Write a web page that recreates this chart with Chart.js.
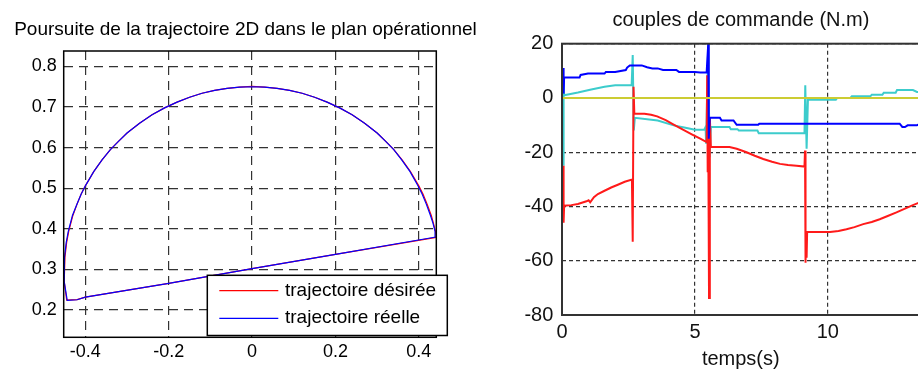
<!DOCTYPE html>
<html>
<head>
<meta charset="utf-8">
<script src="https://cdn.jsdelivr.net/npm/chart.js@4"></script>
<style>
  html, body { margin: 0; padding: 0; background: #fff; overflow: hidden; width: 918px; height: 370px; }
  #boxTraj { position: absolute; left: 0; top: 0; width: 480px; height: 370px; }
  #boxTorque { position: absolute; left: 500px; top: 0; width: 430px; height: 370px; }
</style>
</head>
<body>
<div id="boxTraj"><canvas id="traj" width="480" height="370"></canvas></div>
<div id="boxTorque"><canvas id="torque" width="430" height="370"></canvas></div>
<script>
// ---- 2D trajectory in the operational plane (x, y in m) ----
const trajTicksX = [-0.4, -0.2, 0, 0.2, 0.4];
const trajTicksY = [0.2, 0.3, 0.4, 0.5, 0.6, 0.7, 0.8];
const trajLabels = ['trajectoire désirée', 'trajectoire réelle'];

// arc from the right end over the top to the left, down the left side, then the straight return
const desiredX = [0.442, 0.440, 0.435, 0.430, 0.420, 0.410, 0.400, 0.380, 0.360, 0.340, 0.320, 0.300, 0.270, 0.240, 0.210,
  0.180, 0.150, 0.120, 0.090, 0.060, 0.030, 0.000, -0.030, -0.060, -0.090, -0.120, -0.150, -0.180, -0.210, -0.240,
  -0.270, -0.300, -0.320, -0.340, -0.360, -0.380, -0.400, -0.410, -0.420, -0.430, -0.440, -0.445, -0.449, -0.4505,
  -0.451, -0.4448, -0.420, -0.400, -0.200, 0.000, 0.200, 0.442];
const desiredY = [0.379, 0.394, 0.414, 0.433, 0.461, 0.486, 0.506, 0.541, 0.570, 0.595, 0.616, 0.636, 0.660, 0.681, 0.698,
  0.712, 0.724, 0.734, 0.741, 0.746, 0.749, 0.751, 0.749, 0.746, 0.741, 0.734, 0.724, 0.712, 0.698, 0.681,
  0.660, 0.636, 0.616, 0.595, 0.570, 0.541, 0.506, 0.486, 0.461, 0.433, 0.394, 0.366, 0.330, 0.300,
  0.270, 0.2244, 0.226, 0.232, 0.266, 0.302, 0.337, 0.379];

const realX = [0.441, 0.439, 0.434, 0.428, 0.418, 0.408, 0.398, 0.379, 0.359, 0.340, 0.320, 0.300, 0.270, 0.240, 0.210,
  0.180, 0.150, 0.120, 0.090, 0.060, 0.030, 0.000, -0.030, -0.060, -0.090, -0.120, -0.150, -0.180, -0.210, -0.240,
  -0.270, -0.300, -0.320, -0.340, -0.360, -0.380, -0.400, -0.410, -0.420, -0.431, -0.441, -0.446, -0.450, -0.4508,
  -0.4508, -0.4435, -0.420, -0.400, -0.200, 0.000, 0.200, 0.441];
const realY = [0.380, 0.394, 0.414, 0.433, 0.461, 0.486, 0.506, 0.541, 0.570, 0.595, 0.616, 0.636, 0.660, 0.681, 0.698,
  0.712, 0.724, 0.734, 0.741, 0.746, 0.749, 0.750, 0.749, 0.746, 0.741, 0.734, 0.724, 0.712, 0.698, 0.681,
  0.660, 0.636, 0.616, 0.595, 0.570, 0.541, 0.506, 0.486, 0.461, 0.433, 0.394, 0.366, 0.330, 0.300,
  0.270, 0.2240, 0.2255, 0.232, 0.266, 0.302, 0.337, 0.380];

// ---- control torques (N.m) versus time (s) ----
const timeTicks = [0, 5, 10];
const torqueTicks = [-80, -60, -40, -20, 0, 20];

const tBlue = [0.06, 0.06, 0.08, 0.66, 0.7, 0.98, 1.6, 1.65, 2.0, 2.4, 2.45, 2.55, 3.0, 3.2, 3.4, 3.6, 3.8, 4.3, 4.4, 5.0,
  5.2, 5.44, 5.5, 5.52, 5.56, 5.94, 6.0, 6.45, 6.57, 7.38, 7.42, 12.7, 12.8, 12.9, 13.0, 13.35, 13.5];
const uBlue = [11, 1.6, 7.5, 7.5, 8.5, 9.0, 9.0, 9.6, 9.6, 10.3, 11.2, 12.0, 12.0, 11.3, 10.9, 10.9, 10.3, 10.3, 9.6, 9.6,
  9.4, 9.4, 20, -15, -7.3, -7.3, -8.3, -8.3, -9.9, -9.9, -9.5, -9.5, -10.7, -10.7, -10.1, -10.1, -9.3];

const tCyan = [0.06, 0.06, 0.08, 0.6, 1.1, 1.6, 2.0, 2.62, 2.66, 2.70, 2.74, 3.6, 4.2, 4.6, 5.0, 5.35, 5.40, 5.42, 5.50, 5.55,
  5.60, 6.30, 6.35, 6.60, 6.65, 7.35, 7.40, 9.12, 9.15, 9.20, 9.25, 10.30, 10.35, 10.85, 10.90, 11.60, 11.65, 12.05, 12.10, 12.55,
  12.60, 13.20, 13.35, 13.50];
const uCyan = [-25, 6.6, 1.0, 2.0, 3.1, 4.1, 4.7, 4.7, 15.8, -12, -7.3, -8.3, -10.1, -10.9, -11.7, -11.7, -10.7, -16.9, 20, -21.8,
  -10.7, -10.7, -11.5, -11.5, -12, -12, -13, -13, 4.7, -18.7, -0.7, -0.7, 0, 0, 0.6, 0.6, 1.2, 1.2, 1.9, 1.9,
  2.9, 2.9, 2.2, 2.2];

const tRed = [0.06, 0.06, 0.08, 0.35, 0.6, 0.92, 1.0, 1.06, 1.2, 1.35, 1.6, 1.85, 2.1, 2.36, 2.63, 2.66, 2.69, 2.72, 3.1, 3.35,
  3.58, 3.9, 4.2, 4.55, 4.9, 5.2, 5.44, 5.46, 5.48, 5.50, 5.53, 5.56, 5.60, 6.3, 6.57, 6.94, 7.25, 7.57, 7.9, 8.2,
  8.5, 8.82, 9.12, 9.14, 9.16, 9.18, 9.20, 9.22, 10.08, 10.4, 10.7, 11.0, 11.33, 11.65, 11.95, 12.25, 12.58, 12.9, 13.2, 13.5];
const uRed = [-25, -46, -39.7, -39.5, -39.1, -38.1, -37.7, -38.5, -36.6, -35.4, -34.2, -33, -32, -30.9, -30.1, -53, 4.1, -5.8, -5.8, -6.2,
  -6.8, -8.2, -9.8, -11.7, -13.5, -15, -16.3, 8.4, -27.4, -12, -73.7, -7, -18.1, -18.1, -18.7, -20, -21.3, -22.5, -23.5, -24.3,
  -24.7, -25, -25.3, -19.4, -60.7, -49.4, -58.9, -49.4, -49.4, -49.0, -48.4, -47.6, -46.5, -45.7, -44.7, -43.5, -42.2, -40.8, -39.5, -38.3];

const tYellow = [0, 13.5];
const uYellow = [0, 0];

// ---- helpers ----
const FONT = '"Liberation Sans", Arial, sans-serif';
const pts = (xs, ys) => xs.map((x, i) => ({ x: x, y: ys[i] }));
const fixedTicks = list => scale => { scale.ticks = list.map(v => ({ value: v })); };

// axes box drawn over the data
const frame = {
  id: 'frame',
  afterDatasetsDraw(chart, args, opts) {
    const { ctx, chartArea: a } = chart;
    ctx.save();
    ctx.strokeStyle = opts.color;
    ctx.lineWidth = opts.width;
    ctx.strokeRect(a.left, a.top, a.right - a.left, a.bottom - a.top);
    ctx.restore();
  }
};

// plot title centred above the axes
const caption = {
  id: 'caption',
  afterDraw(chart, args, opts) {
    const ctx = chart.ctx;
    ctx.save();
    ctx.font = opts.font;
    ctx.fillStyle = opts.color;
    ctx.textAlign = 'center';
    ctx.textBaseline = 'middle';
    ctx.fillText(opts.text, opts.x, opts.y);
    ctx.restore();
  }
};

// boxed legend overlapping the lower right of the axes
const boxLegend = {
  id: 'boxLegend',
  afterDraw(chart, args, opts) {
    const ctx = chart.ctx;
    const b = opts.box;
    ctx.save();
    ctx.fillStyle = '#fff';
    ctx.fillRect(b.left, b.top, b.right - b.left, b.bottom - b.top);
    ctx.strokeStyle = '#000';
    ctx.lineWidth = opts.borderWidth;
    ctx.strokeRect(b.left, b.top, b.right - b.left, b.bottom - b.top);
    chart.data.datasets.forEach((ds, i) => {
      const y = opts.rows[i];
      ctx.strokeStyle = ds.borderColor;
      ctx.lineWidth = ds.borderWidth;
      ctx.beginPath();
      ctx.moveTo(opts.lineFrom, y);
      ctx.lineTo(opts.lineTo, y);
      ctx.stroke();
      ctx.fillStyle = '#000';
      ctx.font = opts.font;
      ctx.textAlign = 'left';
      ctx.textBaseline = 'middle';
      ctx.fillText(ds.label, opts.textX, opts.textRows[i]);
    });
    ctx.restore();
  }
};

// ---- left: trajectory tracking ----
new Chart(document.getElementById('traj'), {
  type: 'scatter',
  data: {
    datasets: [
      { label: trajLabels[0], data: pts(desiredX, desiredY), showLine: true, borderColor: '#ff0000',
        borderWidth: 1.2, pointRadius: 0, tension: 0, order: 1 },
      { label: trajLabels[1], data: pts(realX, realY), showLine: true, borderColor: '#0000ff',
        borderWidth: 1.2, pointRadius: 0, tension: 0, order: 0 }
    ]
  },
  options: {
    responsive: false,
    animation: false,
    layout: { padding: { top: 51, right: 43.7, bottom: 0, left: 0 } },
    plugins: {
      legend: { display: false },
      tooltip: { enabled: false },
      frame: { color: '#000', width: 1.5 },
      caption: { text: 'Poursuite de la trajectoire 2D dans le plan opérationnel', x: 245.5, y: 29.5,
        font: '19px ' + FONT, color: '#000' },
      boxLegend: { box: { left: 207.3, top: 275.3, right: 447.3, bottom: 335.5 }, borderWidth: 1.5,
        lineFrom: 219.3, lineTo: 278.3, rows: [290.7, 318.3], textX: 285, textRows: [290.3, 317.6],
        font: '19px ' + FONT }
    },
    scales: {
      x: {
        type: 'linear', min: -0.452, max: 0.442,
        afterBuildTicks: fixedTicks(trajTicksX),
        afterFit: s => { s.height = 32.7; },
        ticks: { color: '#000', padding: 3.6, maxRotation: 0, autoSkip: false,
          font: { family: FONT, size: 18 }, callback: v => String(v) },
        grid: { color: '#333', lineWidth: 1.2, drawTicks: false, borderDash: [9, 6] },
        border: { display: false, dash: [9, 6] }
      },
      y: {
        type: 'linear', min: 0.133, max: 0.838,
        afterBuildTicks: fixedTicks(trajTicksY),
        afterFit: s => { s.width = 63.7; },
        ticks: { color: '#000', padding: 7, autoSkip: false,
          font: { family: FONT, size: 18 }, callback: v => String(v) },
        grid: { color: '#333', lineWidth: 1.2, drawTicks: false, borderDash: [9, 6] },
        border: { display: false, dash: [9, 6] }
      }
    }
  },
  plugins: [frame, caption, boxLegend]
});

// ---- right: control torques ----
const torqueLine = (label, xs, ys, color) => ({
  label: label, data: pts(xs, ys), showLine: true, borderColor: color,
  borderWidth: 2, pointRadius: 0, tension: 0
});

new Chart(document.getElementById('torque'), {
  type: 'scatter',
  data: {
    datasets: [
      torqueLine('couple 4', tYellow, uYellow, '#cccc33'),
      torqueLine('couple 1', tBlue, uBlue, '#0000ff'),
      torqueLine('couple 3', tRed, uRed, '#ff1a1a'),
      torqueLine('couple 2', tCyan, uCyan, '#3ccccc')
    ]
  },
  options: {
    responsive: false,
    animation: false,
    layout: { padding: { top: 43.7, right: 10.4, bottom: 0, left: 0 } },
    plugins: {
      legend: { display: false },
      tooltip: { enabled: false },
      frame: { color: '#333', width: 2 },
      caption: { text: 'couples de commande (N.m)', x: 241, y: 20, font: '20px ' + FONT, color: '#111' }
    },
    scales: {
      x: {
        type: 'linear', min: 0, max: 13.45,
        afterBuildTicks: fixedTicks(timeTicks),
        afterFit: s => { s.height = 55; },
        ticks: { color: '#111', padding: 5.5, maxRotation: 0, autoSkip: false,
          font: { family: FONT, size: 20 }, callback: v => String(v) },
        title: { display: true, text: 'temps(s)', color: '#111', padding: { top: 0, bottom: 0 },
          font: { family: FONT, size: 20, lineHeight: 1.1 } },
        grid: { color: '#333', lineWidth: 1.2, drawTicks: false, borderDash: [4, 3] },
        border: { display: false, dash: [4, 3] }
      },
      y: {
        type: 'linear', min: -80, max: 20,
        afterBuildTicks: fixedTicks(torqueTicks),
        afterFit: s => { s.width = 62; },
        ticks: { color: '#111', padding: 8.7, autoSkip: false,
          font: { family: FONT, size: 20 }, callback: v => String(v) },
        grid: { color: '#333', lineWidth: 1.2, drawTicks: false, borderDash: [4, 3] },
        border: { display: false, dash: [4, 3] }
      }
    }
  },
  plugins: [frame, caption]
});
</script>
</body>
</html>
